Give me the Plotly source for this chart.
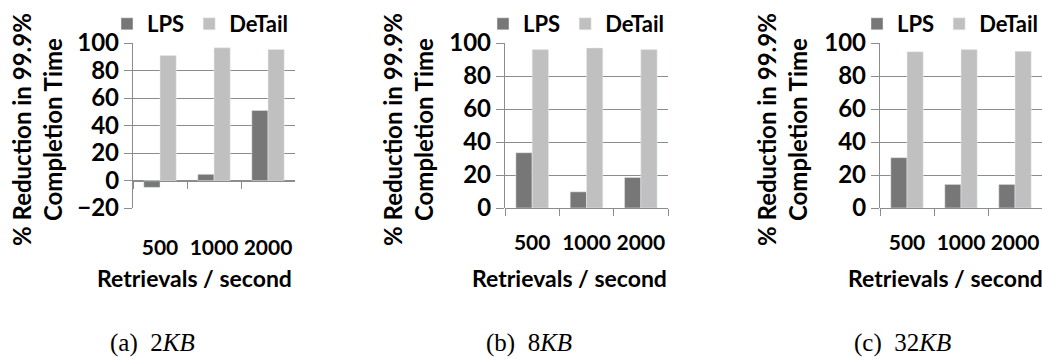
import plotly.graph_objects as go

W, H = 1042, 358

categories = ["500", "1000", "2000"]
series_names = ["LPS", "DeTail"]
lps_2kb = [-5, 4.5, 51]
detail_2kb = [91, 96.5, 95.3]
lps_8kb = [33.5, 9.8, 18.5]
detail_8kb = [96, 97, 96]
lps_32kb = [30.5, 14.3, 14.3]
detail_32kb = [94.7, 96, 95]
panel_captions = ["(a)  2<i>KB</i>", "(b)  8<i>KB</i>", "(c)  32<i>KB</i>"]
y_ranges = [[-20, 100], [0, 100], [0, 100]]
y_title = "% Reduction in 99.9%<br>Completion Time"
x_title = "Retrievals / second"

LPS_COLOR = "#777777"
DETAIL_COLOR = "#c0c0c0"
GRID = "#8c8c8c"
FONT = "Lato"

def px_x(p):
    return p / W

def px_y(p):
    return 1 - p / H

# plot-area pixel boxes (left, right, top, bottom)
boxes = [(133, 295, 43, 208), (505, 668, 43, 208), (880, 1042, 43, 208)]
ytitle_x = [37, 408, 782]
xtitle_x = [194, 569, 945]
caption_x = [152, 529, 902]
legend_x = [107, 483, 857]

data = [(lps_2kb, detail_2kb), (lps_8kb, detail_8kb), (lps_32kb, detail_32kb)]

fig = go.Figure()
annotations = []
for i, ((lps, det), (l, r, t, b), yr) in enumerate(zip(data, boxes, y_ranges)):
    n = "" if i == 0 else str(i + 1)
    leg = "legend" + n
    fig.add_trace(go.Bar(x=categories, y=lps, name=series_names[0], marker_color=LPS_COLOR,
                         xaxis="x" + n, yaxis="y" + n, legend=leg))
    fig.add_trace(go.Bar(x=categories, y=det, name=series_names[1], marker_color=DETAIL_COLOR,
                         xaxis="x" + n, yaxis="y" + n, legend=leg))
    y0, y1 = px_y(b), px_y(t)
    zero_pos = y0 + (0 - yr[0]) / (yr[1] - yr[0]) * (y1 - y0)
    standoff = 48 if yr[0] < 0 else 16
    fig.update_layout(**{
        "xaxis" + n: dict(domain=[px_x(l), px_x(r)], anchor="free", position=zero_pos,
                          type="category", range=[-0.5, 2.5], showline=True, linecolor=GRID,
                          linewidth=1.3, ticks="outside", ticklen=7, tickcolor=GRID,
                          tickson="boundaries", showgrid=False, ticklabelstandoff=standoff,
                          tickangle=0, automargin=False,
                          tickfont=dict(family=FONT, size=21, color="black", weight="bold")),
        "yaxis" + n: dict(domain=[y0, y1], anchor="x" + n, range=yr, dtick=20,
                          showline=True, linecolor=GRID, linewidth=1.3, ticks="outside",
                          ticklen=8, tickcolor=GRID, showgrid=True, gridcolor=GRID,
                          gridwidth=1.3, zeroline=False, automargin=False,
                          tickfont=dict(family=FONT, size=24, color="black", weight="bold")),
        leg: dict(orientation="h", x=px_x(legend_x[i]), y=px_y(3), xanchor="left",
                  yanchor="top", bgcolor="rgba(0,0,0,0)", traceorder="normal",
                  font=dict(family=FONT, size=22, color="black", weight="bold")),
    })
    annotations.append(dict(text=y_title, x=px_x(ytitle_x[i]), y=px_y(130), xref="paper",
                            yref="paper", textangle=-90, showarrow=False,
                            xanchor="center", yanchor="middle",
                            font=dict(family=FONT, size=24, color="black", weight="bold")))
    annotations.append(dict(text=x_title, x=px_x(xtitle_x[i]), y=px_y(278), xref="paper",
                            yref="paper", showarrow=False, xanchor="center", yanchor="middle",
                            font=dict(family=FONT, size=23, color="black", weight="bold")))
    annotations.append(dict(text=panel_captions[i], x=px_x(caption_x[i]), y=0,
                            xref="paper", yref="paper", showarrow=False, xanchor="center",
                            yanchor="bottom", borderpad=0,
                            font=dict(family="Liberation Serif", size=25, color="black")))

fig.update_layout(width=W, height=H, margin=dict(l=0, r=0, t=0, b=0, autoexpand=False),
                  paper_bgcolor="white", plot_bgcolor="white",
                  barmode="group", bargap=0.4, bargroupgap=0,
                  showlegend=True, annotations=annotations)

fig.write_html("out.html")
